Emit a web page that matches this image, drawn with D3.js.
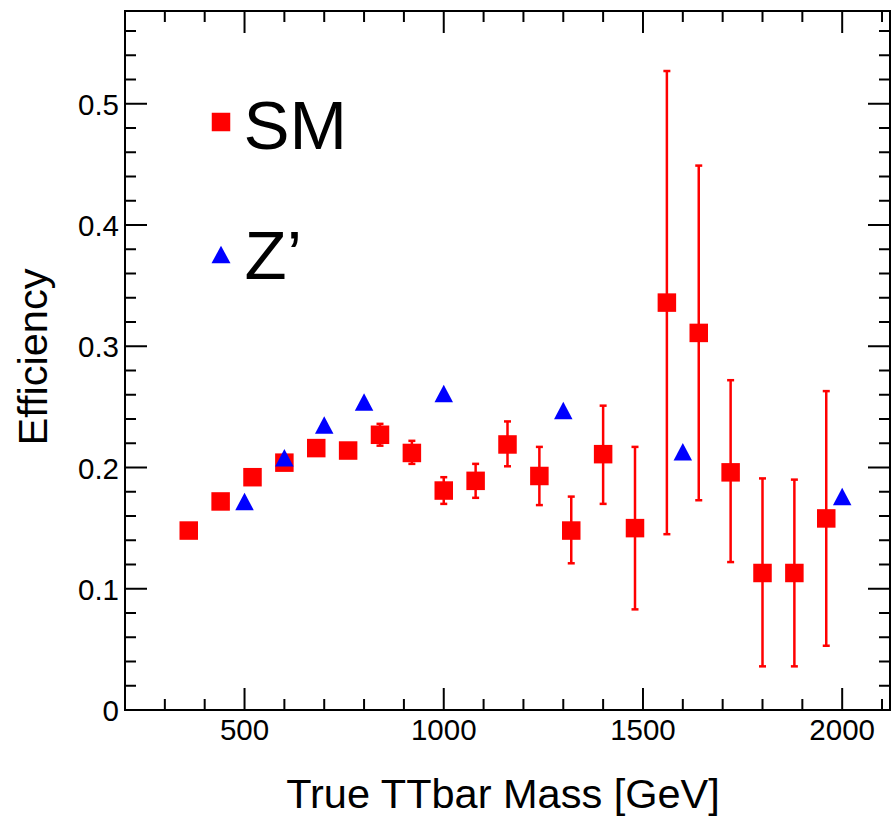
<!DOCTYPE html>
<html>
<head>
<meta charset="utf-8">
<script src="https://cdn.jsdelivr.net/npm/d3@7"></script>
<style>
  body { margin: 0; background: #fff; }
  svg { display: block; font-family: "Liberation Sans", Arial, Helvetica, sans-serif; }
</style>
</head>
<body>
<svg id="chart" width="891" height="819"></svg>
<script>
// SM efficiency vs true ttbar mass (with asymmetric errors)
const smMass = [360, 440, 520, 600, 680, 760, 840, 920, 1000, 1080, 1160, 1240, 1320, 1400, 1480, 1560, 1640, 1720, 1800, 1880, 1960];
const smEff  = [0.148, 0.172, 0.192, 0.204, 0.216, 0.214, 0.227, 0.212, 0.181, 0.189, 0.219, 0.193, 0.148, 0.211, 0.150, 0.336, 0.311, 0.196, 0.113, 0.113, 0.158];
const smHigh = [0.152, 0.176, 0.196, 0.208, 0.220, 0.218, 0.236, 0.222, 0.192, 0.203, 0.238, 0.217, 0.176, 0.251, 0.217, 0.527, 0.449, 0.272, 0.191, 0.190, 0.263];
const smLow  = [0.144, 0.168, 0.188, 0.200, 0.212, 0.210, 0.218, 0.203, 0.170, 0.175, 0.201, 0.169, 0.121, 0.170, 0.083, 0.145, 0.173, 0.122, 0.036, 0.036, 0.053];

// Z' efficiency points
const zpMass = [500, 600, 700, 800, 1000, 1300, 1600, 2000];
const zpEff  = [0.172, 0.208, 0.235, 0.254, 0.261, 0.247, 0.213, 0.176];

const xTicks = [500, 1000, 1500, 2000];
const yTicks = [0, 0.1, 0.2, 0.3, 0.4, 0.5];

const svg = d3.select('#chart');
const padL = 125, padR = 890, padT = 11, padB = 710;

const x = d3.scaleLinear().domain([200, 2120]).range([padL, padR]);
const y = d3.scaleLinear().domain([0, 0.5765]).range([padB, padT]);

const minorX = d3.range(300, 2120, 100).filter(v => v % 500 !== 0);
const minorY = d3.range(0, 0.57, 0.02).map(v => +v.toFixed(2)).filter(v => Math.round(v * 100) % 10 !== 0);

// frame
svg.append('rect')
  .attr('x', padL).attr('y', padT)
  .attr('width', padR - padL).attr('height', padB - padT)
  .attr('fill', 'none').attr('stroke', '#000').attr('stroke-width', 2);

// ticks, drawn inward on all four sides
const tickG = svg.append('g').attr('stroke', '#000').attr('stroke-width', 2);
const xTickLines = (vals, len) => {
  vals.forEach(v => {
    tickG.append('line').attr('x1', x(v)).attr('x2', x(v)).attr('y1', padB).attr('y2', padB - len);
    tickG.append('line').attr('x1', x(v)).attr('x2', x(v)).attr('y1', padT).attr('y2', padT + len);
  });
};
const yTickLines = (vals, len) => {
  vals.forEach(v => {
    tickG.append('line').attr('y1', y(v)).attr('y2', y(v)).attr('x1', padL).attr('x2', padL + len);
    tickG.append('line').attr('y1', y(v)).attr('y2', y(v)).attr('x1', padR).attr('x2', padR - len);
  });
};
xTickLines(xTicks, 22);
xTickLines(minorX, 11);
yTickLines(yTicks, 22);
yTickLines(minorY, 11);

// tick labels
svg.append('g').selectAll('text').data(xTicks).join('text')
  .attr('x', d => x(d)).attr('y', padB + 30)
  .attr('text-anchor', 'middle').attr('font-size', 29.5)
  .text(d => d);

svg.append('g').selectAll('text').data(yTicks).join('text')
  .attr('x', padL - 6).attr('y', d => y(d) + 11)
  .attr('text-anchor', 'end').attr('font-size', 29.5)
  .text(d => d === 0 ? '0' : d3.format('.1f')(d));

// axis titles
svg.append('text')
  .attr('x', 503).attr('y', 808)
  .attr('text-anchor', 'middle').attr('font-size', 41.5)
  .text('True TTbar Mass [GeV]');

svg.append('text')
  .attr('transform', 'translate(47,357) rotate(-90)')
  .attr('text-anchor', 'middle').attr('font-size', 41.5)
  .text('Efficiency');

// SM error bars
const sm = smMass.map((m, i) => ({m: m, v: smEff[i], hi: smHigh[i], lo: smLow[i]}));
const errG = svg.append('g').attr('stroke', '#ff0000').attr('stroke-width', 2.5);
sm.forEach(d => {
  errG.append('line').attr('x1', x(d.m)).attr('x2', x(d.m)).attr('y1', y(d.hi)).attr('y2', y(d.lo));
  errG.append('line').attr('x1', x(d.m) - 3.5).attr('x2', x(d.m) + 3.5).attr('y1', y(d.hi)).attr('y2', y(d.hi));
  errG.append('line').attr('x1', x(d.m) - 3.5).attr('x2', x(d.m) + 3.5).attr('y1', y(d.lo)).attr('y2', y(d.lo));
});

// SM squares
const sq = 18.5;
svg.append('g').selectAll('rect').data(sm).join('rect')
  .attr('x', d => x(d.m) - sq / 2).attr('y', d => y(d.v) - sq / 2)
  .attr('width', sq).attr('height', sq)
  .attr('fill', '#ff0000');

// Z' triangles
const tri = (cx, cy, w, h) => 'M' + (cx - w / 2) + ',' + (cy + h / 2) + 'L' + (cx + w / 2) + ',' + (cy + h / 2) + 'L' + cx + ',' + (cy - h / 2) + 'Z';
svg.append('g').selectAll('path').data(zpMass.map((m, i) => ({m: m, v: zpEff[i]}))).join('path')
  .attr('d', d => tri(x(d.m), y(d.v), 18.5, 17.5))
  .attr('fill', '#0000ff');

// legend
svg.append('rect').attr('x', 221 - sq / 2).attr('y', 122 - sq / 2).attr('width', sq).attr('height', sq).attr('fill', '#ff0000');
svg.append('text').attr('x', 243.5).attr('y', 148.5).attr('font-size', 69).text('SM');
svg.append('path').attr('d', tri(221, 254.5, 19, 17.5)).attr('fill', '#0000ff');
svg.append('text').attr('x', 244.5).attr('y', 279).attr('font-size', 69).text('Z\u2019');
</script>
</body>
</html>
